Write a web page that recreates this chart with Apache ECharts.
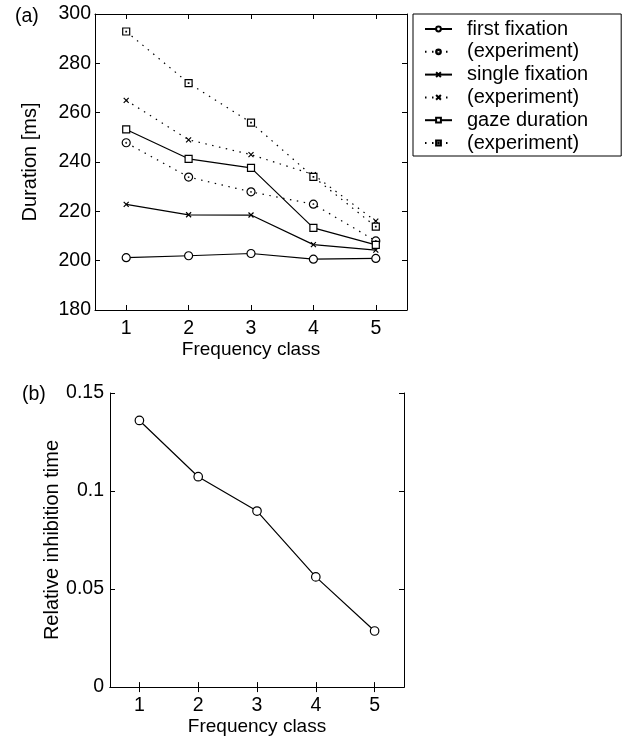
<!doctype html>
<html>
<head>
<meta charset="UTF-8">
<title>Frequency class</title>
<script src="https://cdn.jsdelivr.net/npm/echarts@6/dist/echarts.min.js"></script>
<style>
  html, body { margin: 0; padding: 0; background: #fff; }
</style>
</head>
<body>
<div id="chart" style="width: 626px; height: 737px;"></div>
<script>
// data
var classes = ['1', '2', '3', '4', '5'];
var firstModel = [201.2, 202.0, 202.9, 200.6, 200.9];
var firstExp = [247.8, 233.9, 227.9, 222.9, 208.0];
var singleModel = [222.8, 218.6, 218.5, 206.5, 204.3];
var singleExp = [265.0, 249.0, 243.0, 234.9, 216.0];
var gazeModel = [253.2, 241.3, 237.6, 213.3, 206.4];
var gazeExp = [292.9, 272.0, 256.0, 234.0, 213.8];
var inhibition = [0.136, 0.1073, 0.0898, 0.0562, 0.0286];
var durationTicks = { min: 180, max: 300, step: 20 };
var inhibitionTicks = { min: 0, max: 0.15, step: 0.05 };

var legendNames = {
    first: 'first fixation', exp1: '(experiment)',
    single: 'single fixation', exp2: '(experiment)',
    gaze: 'gaze duration', exp3: '(experiment)'
};

var font = 'Liberation Sans';
var black = '#000';

// symbols
var circle = 'circle';
var circleDot = 'path://M10,5A5,5,0,1,1,0,5A5,5,0,1,1,10,5Z M4.6,5A0.4,0.4,0,1,1,5.4,5A0.4,0.4,0,1,1,4.6,5Z';
var cross = 'path://M0,0L10,10M0,10L10,0';
var square = 'path://M0,0H10V10H0Z';
var squareDot = 'path://M0,0H10V10H0Z M4.6,4.6H5.4V5.4H4.6Z';

function mkSeries(name, data, solid, symbol, size) {
    return {
        name: name,
        type: 'line',
        data: data,
        xAxisIndex: 0,
        yAxisIndex: 0,
        symbol: symbol,
        symbolSize: size,
        showAllSymbol: true,
        lineStyle: { color: black, width: 1.2, type: solid ? 'solid' : [1.5, 5.5] },
        itemStyle: { color: symbol === cross ? black : '#fff', borderColor: black, borderWidth: 1.2 },
        emphasis: { disabled: true },
        animation: false
    };
}

function frameAxis(pos, grid, type, extra) {
    var a = {
        gridIndex: grid,
        position: pos,
        axisLine: { show: true, lineStyle: { color: black, width: 1 } },
        axisTick: { show: true, inside: true, length: 5, lineStyle: { color: black } },
        axisLabel: { show: false },
        splitLine: { show: false }
    };
    if (type === 'category') {
        a.type = 'category';
        a.data = classes;
        a.boundaryGap = true;
        a.axisTick.alignWithLabel = true;
    } else {
        a.type = 'value';
    }
    return Object.assign(a, extra || {});
}

var tickLabel = { show: true, color: black, fontFamily: font, fontSize: 19.5 };
var nameStyle = { color: black, fontFamily: font, fontSize: 19 };
var yNameStyle = { color: black, fontFamily: font, fontSize: 20 };

var chart = echarts.init(document.getElementById('chart'), null, { renderer: 'canvas' });

var option = {
    backgroundColor: '#fff',
    animation: false,
    grid: [
        { left: 95, top: 14, width: 312, height: 296 },
        { left: 110, top: 393, width: 294, height: 295 }
    ],
    xAxis: [
        frameAxis('bottom', 0, 'category', {
            axisLabel: Object.assign({ margin: 9 }, tickLabel),
            name: 'Frequency class', nameLocation: 'middle', nameGap: 28, nameTextStyle: nameStyle
        }),
        frameAxis('top', 0, 'category'),
        frameAxis('bottom', 1, 'category', {
            axisLabel: Object.assign({ margin: 9 }, tickLabel),
            name: 'Frequency class', nameLocation: 'middle', nameGap: 27, nameTextStyle: nameStyle
        }),
        frameAxis('top', 1, 'category')
    ],
    yAxis: [
        frameAxis('left', 0, 'value', {
            min: durationTicks.min, max: durationTicks.max, interval: durationTicks.step,
            axisLabel: Object.assign({ margin: 4 }, tickLabel),
            name: 'Duration [ms]', nameLocation: 'middle', nameGap: 55, nameTextStyle: yNameStyle
        }),
        frameAxis('right', 0, 'value', {
            min: durationTicks.min, max: durationTicks.max, interval: durationTicks.step
        }),
        frameAxis('left', 1, 'value', {
            min: inhibitionTicks.min, max: inhibitionTicks.max, interval: inhibitionTicks.step,
            axisLabel: Object.assign({ margin: 6 }, tickLabel),
            name: 'Relative inhibition time', nameLocation: 'middle', nameGap: 47, nameTextStyle: yNameStyle
        }),
        frameAxis('right', 1, 'value', {
            min: inhibitionTicks.min, max: inhibitionTicks.max, interval: inhibitionTicks.step
        })
    ],
    legend: {
        orient: 'vertical',
        left: 413,
        top: 14,
        padding: [5, 33, 3, 11],
        itemWidth: 27,
        itemHeight: 6,
        itemGap: 2.8,
        borderColor: black,
        borderWidth: 1,
        borderRadius: 0,
        backgroundColor: '#fff',
        selectedMode: false,
        textStyle: { color: black, fontFamily: font, fontSize: 20, padding: [0, 0, 0, 10] },
        data: ['first', 'exp1', 'single', 'exp2', 'gaze', 'exp3'],
        formatter: function (n) { return legendNames[n]; }
    },
    graphic: [
        { type: 'text', left: 15, top: 7, style: { text: '(a)', fill: black, font: '19.5px "Liberation Sans"' } },
        { type: 'text', left: 22, top: 385, style: { text: '(b)', fill: black, font: '19.5px "Liberation Sans"' } }
    ],
    series: [
        mkSeries('first', firstModel, true, circle, 8),
        mkSeries('exp1', firstExp, false, circleDot, 8),
        mkSeries('single', singleModel, true, cross, 5),
        mkSeries('exp2', singleExp, false, cross, 5),
        mkSeries('gaze', gazeModel, true, square, 7),
        mkSeries('exp3', gazeExp, false, squareDot, 7),
        {
            name: 'inhibition',
            type: 'line',
            xAxisIndex: 2,
            yAxisIndex: 2,
            data: inhibition,
            symbol: 'circle',
            symbolSize: 8.5,
            lineStyle: { color: black, width: 1.2 },
            itemStyle: { color: '#fff', borderColor: black, borderWidth: 1.2 },
            emphasis: { disabled: true },
            animation: false
        }
    ]
};

chart.setOption(option);
</script>
</body>
</html>
